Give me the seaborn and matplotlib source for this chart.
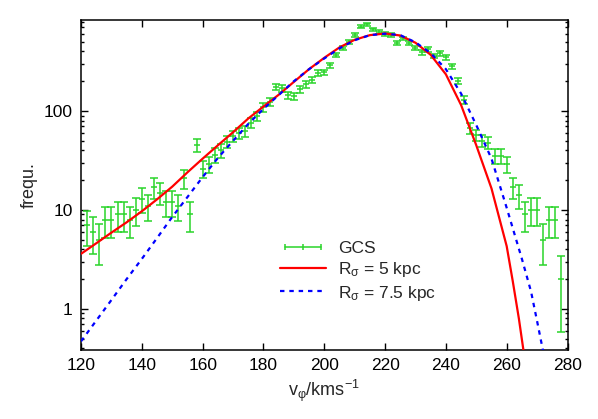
import numpy as np
import pandas as pd
import matplotlib
matplotlib.use("Agg")
import matplotlib.pyplot as plt
from matplotlib.lines import Line2D
from matplotlib.legend_handler import HandlerLine2D
from matplotlib.ticker import LogLocator, FixedLocator, NullFormatter, FuncFormatter
import seaborn as sns

# GCS histogram (counts per 2 km/s bin)
v_bins = np.arange(122, 280, 2)
counts = [7, 6, 5, 8, 8, 9, 9, 8, 10, 13, 11, 17, 15, 12, 12, 11, 21, 9, 45, 26,
          29, 36, 40, 49, 56, 60, 63, 76, 89, 109, 124, 176, 169, 145, 141, 166, 186, 206, 244, 246,
          292, 368, 436, 502, 586, 711, 756, 669, 632, 600, 586, 490, 542, 483, 436, 392, 420, 362, 383, 349,
          285, 201, 129, 67, 57, 50, 48, 35, 35, 29, 17, 14, 9, 10, 10, 5, 8, 8, 2]

# model curves
v_red = [120, 125, 130, 135, 140, 145, 150, 155, 160, 165, 170, 175, 180, 185, 190, 195, 200,
         205, 210, 215, 220, 225, 230, 235, 240, 245, 250, 255, 260, 262, 264, 266]
f_red = [3.6, 4.6, 5.9, 7.5, 9.7, 12.8, 17.2, 24, 33, 45, 61, 84, 111, 146, 197, 265, 345,
         440, 525, 585, 608, 580, 490, 370, 235, 115, 45, 16.5, 4.3, 1.9, 0.8, 0.3]

v_blue = [120, 125, 130, 135, 140, 145, 150, 155, 160, 165, 170, 175, 180, 185, 190, 195, 200,
          205, 210, 215, 220, 225, 230, 235, 240, 245, 250, 255, 260, 265, 268, 270, 272]
f_blue = [0.47, 0.76, 1.23, 2.0, 3.2, 5.2, 8.5, 13.5, 21.5, 33.5, 50, 74, 105, 145, 200, 265, 340,
          430, 520, 585, 605, 585, 495, 385, 265, 150, 72, 33, 10.5, 3.2, 1.5, 0.75, 0.37]

sns.set_style("ticks")
plt.rcParams['font.family'] = ['Liberation Sans', 'DejaVu Sans']
plt.rcParams['mathtext.fontset'] = 'custom'
plt.rcParams['mathtext.rm'] = 'Liberation Sans'
plt.rcParams['mathtext.it'] = 'Liberation Sans'
plt.rcParams['mathtext.default'] = 'regular'

fig = plt.figure(figsize=(5.98, 4.19), dpi=100)
ax = fig.add_axes([0.1355, 0.165, 0.8135, 0.787])

green = '#2ad42a'
counts = np.array(counts, dtype=float)
ax.errorbar(v_bins, counts, yerr=np.sqrt(counts), fmt='none', ecolor=green,
            elinewidth=1.1, capsize=2.6, capthick=1.1, zorder=2)
ax.plot(v_bins, counts, ls='none', marker='_', ms=5, mew=1.1, color=green, zorder=2)

red_df = pd.DataFrame({'v': v_red, 'f': f_red})
blue_df = pd.DataFrame({'v': v_blue, 'f': f_blue})
sns.lineplot(data=red_df, x='v', y='f', color='#ff0000', lw=1.6, ax=ax, zorder=3)
sns.lineplot(data=blue_df, x='v', y='f', color='#0000ff', lw=1.6, ax=ax, zorder=3,
             dashes=False, linestyle=(0, (2.0, 2.2)))

ax.set_yscale('log')
ax.set_xlim(120, 280)
ax.set_ylim(0.385, 830)
ax.xaxis.set_major_locator(FixedLocator(np.arange(120, 281, 20)))
ax.yaxis.set_major_locator(FixedLocator([1, 10, 100]))
ax.yaxis.set_major_formatter(FuncFormatter(lambda y, p: '%g' % y))
ax.yaxis.set_minor_locator(LogLocator(base=10, subs=np.arange(2, 10)))
ax.yaxis.set_minor_formatter(NullFormatter())

ax.tick_params(which='both', direction='in', top=True, right=True, width=1.0,
               labelsize=12.5, colors='black')
ax.tick_params(which='major', length=5, pad=6)
ax.tick_params(which='minor', length=2.5)
for s in ax.spines.values():
    s.set_linewidth(1.1)
    s.set_color('black')

ax.set_xlabel('v$_{φ}$/kms$^{-1}$', fontsize=13, labelpad=3)
ax.set_ylabel('frequ.', fontsize=13, labelpad=4)

h_gcs = Line2D([], [], color=green, lw=1.1, marker='|', ms=5, mew=1.1)
h_red = Line2D([], [], color='#ff0000', lw=1.6)
h_blue = Line2D([], [], color='#0000ff', lw=1.6, linestyle=(0, (2.0, 2.2)))
ax.legend([h_gcs, h_red, h_blue],
          ['GCS', 'R$_{σ}$ = 5 kpc', 'R$_{σ}$ = 7.5 kpc'],
          handler_map={h_gcs: HandlerLine2D(numpoints=3)},
          loc='upper left', bbox_to_anchor=(0.395, 0.352), frameon=False,
          fontsize=12.5, handlelength=2.65, handletextpad=0.7, labelspacing=0.25,
          borderaxespad=0)

fig.savefig('out.png', dpi=100)
